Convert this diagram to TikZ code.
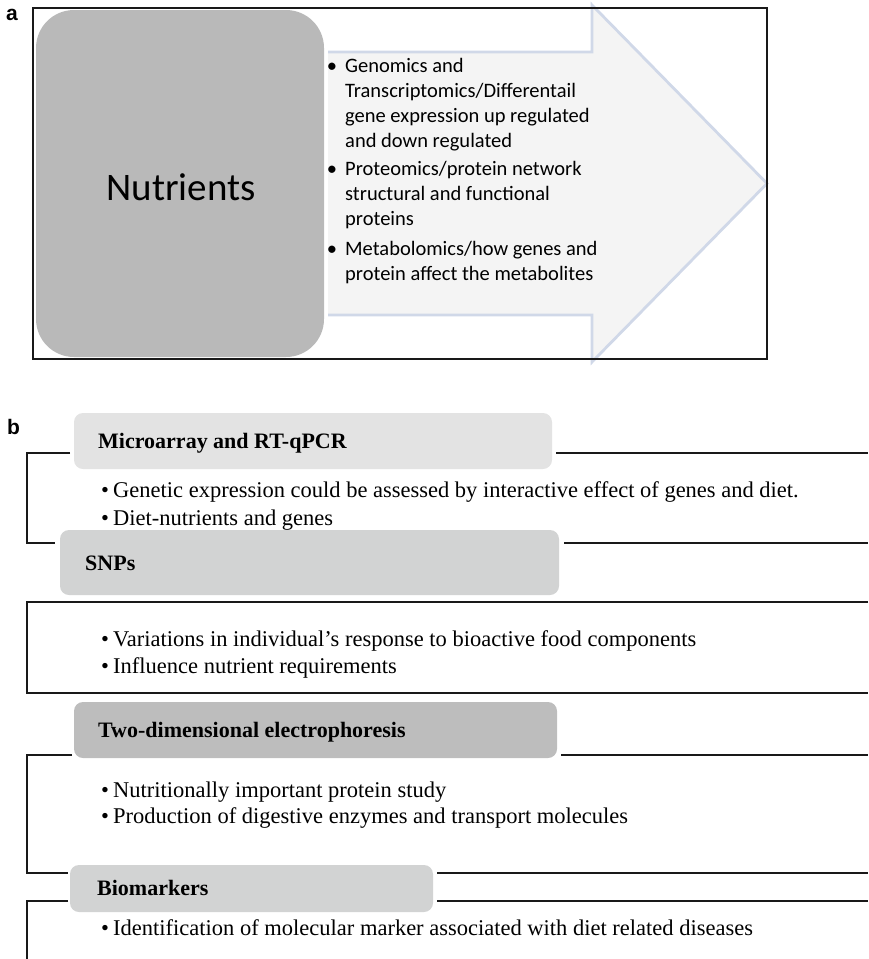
\documentclass[tikz,border=0pt]{standalone}
\usepackage{fontspec}
\setmainfont{Liberation Serif}
\newfontfamily\calibrifont{Carlito}
\newfontfamily\panelfont{Liberation Sans}

\definecolor{nutgray}{HTML}{B9B9B9}
\definecolor{arrowfill}{HTML}{F4F4F4}
\definecolor{arrowedge}{HTML}{D0D8E8}
\definecolor{hdlight}{HTML}{E3E3E3}
\definecolor{hdmid}{HTML}{D2D3D3}
\definecolor{hddark}{HTML}{BDBDBD}

\newcommand{\itemdot}{\makebox[12pt][l]{\textbullet}}

\tikzset{
    frameline/.style={line width=1.7pt, draw=black!90},
    atext/.style={anchor=base west, inner sep=0pt, font=\calibrifont\fontsize{20.5}{25}\selectfont},
    btext/.style={anchor=base west, inner sep=0pt, font=\fontsize{22.5}{28}\selectfont},
    headtext/.style={anchor=base west, inner sep=0pt, font=\bfseries\fontsize{22}{26}\selectfont},
    panellabel/.style={anchor=base west, inner sep=0pt, font=\panelfont\bfseries\fontsize{21}{24}\selectfont},
    headbox/.style={rounded corners=9pt}
}

\begin{document}
\begin{tikzpicture}[x=1pt, y=-1pt]
    \useasboundingbox (0,0) rectangle (868,959);

    % Panel labels
    \node[panellabel] (alabel) at (6,20) {a};
    \node[panellabel] (blabel) at (7,434) {b};

    % Arrow points
    \coordinate (A1) at (328,52);
    \coordinate (A2) at (592,52);
    \coordinate (A3) at (592,5);
    \coordinate (A4) at (767,183.5);
    \coordinate (A5) at (592,362);
    \coordinate (A6) at (592,315);
    \coordinate (A7) at (328,315);

    % Draw arrow
    \fill[arrowfill] (A1) -- (A2) -- (A3) -- (A4) -- (A5) -- (A6) -- (A7) -- cycle;
    \draw[arrowedge, line width=2.8pt] (A1) -- (A2) -- (A3) -- (A4) -- (A5) -- (A6) -- (A7);

    % Nutrients box
    \fill[nutgray, rounded corners=38pt] (36,10) rectangle (324,357);
    \node[anchor=base, inner sep=0pt, font=\calibrifont\fontsize{39}{44}\selectfont] (nutrients) at (181,200) {Nutrients};

    % Outer frame of panel a
    \draw[frameline] (33,8) rectangle (767,359);

    % Bullets of panel a
    \node[atext, anchor=base] (dot1) at (332,72) {\textbullet};
    \node[atext] (omics1) at (345,72) {Genomics and};
    \node[atext] (omics2) at (345,97) {Transcriptomics/Differentail};
    \node[atext] (omics3) at (345,122) {gene expression up regulated};
    \node[atext] (omics4) at (345,147) {and down regulated};
    \node[atext, anchor=base] (dot2) at (332,175) {\textbullet};
    \node[atext] (prot1) at (345,175) {Proteomics/protein network};
    \node[atext] (prot2) at (345,200) {structural and functional};
    \node[atext] (prot3) at (345,225) {proteins};
    \node[atext, anchor=base] (dot3) at (332,255) {\textbullet};
    \node[atext] (meta1) at (345,255) {Metabolomics/how genes and};
    \node[atext] (meta2) at (345,280) {protein affect the metabolites};

    % Section frames of panel b
    \draw[frameline] (70,453) -- (27,453) -- (27,543) -- (55,543);
    \draw[frameline] (556,453) -- (868,453);
    \draw[frameline] (564,543) -- (868,543);
    \draw[frameline] (868,602) -- (27,602) -- (27,693) -- (868,693);
    \draw[frameline] (72,755) -- (27,755) -- (27,873) -- (68,873);
    \draw[frameline] (561,755) -- (868,755);
    \draw[frameline] (437,873) -- (868,873);
    \draw[frameline] (68,901) -- (27,901) -- (27,959);
    \draw[frameline] (437,901) -- (868,901);

    % Microarray section
    \fill[hdlight, headbox] (74,413) rectangle (552,469);
    \node[headtext] (micro) at (98,448) {Microarray and RT-qPCR};
    \node[btext] (micro1) at (101,497) {\itemdot Genetic expression could be assessed by interactive effect of genes and diet.};
    \node[btext] (micro2) at (101,525) {\itemdot Diet-nutrients and genes};

    % SNPs section
    \fill[hdmid, headbox] (60,530) rectangle (559,595);
    \node[headtext] (snps) at (85,570) {SNPs};
    \node[btext] (snps1) at (101,646) {\itemdot Variations in individual’s response to bioactive food components};
    \node[btext] (snps2) at (101,673) {\itemdot Influence nutrient requirements};

    % Electrophoresis section
    \fill[hddark, headbox] (74,702) rectangle (557,758);
    \node[headtext] (electro) at (98,737) {Two-dimensional electrophoresis};
    \node[btext] (electro1) at (101,797) {\itemdot Nutritionally important protein study};
    \node[btext] (electro2) at (101,823) {\itemdot Production of digestive enzymes and transport molecules};

    % Biomarkers section
    \fill[hdmid, headbox] (70,865) rectangle (433,912);
    \node[headtext] (bio) at (97,895) {Biomarkers};
    \node[btext] (bio1) at (101,935) {\itemdot Identification of molecular marker associated with diet related diseases};
\end{tikzpicture}
\end{document}
